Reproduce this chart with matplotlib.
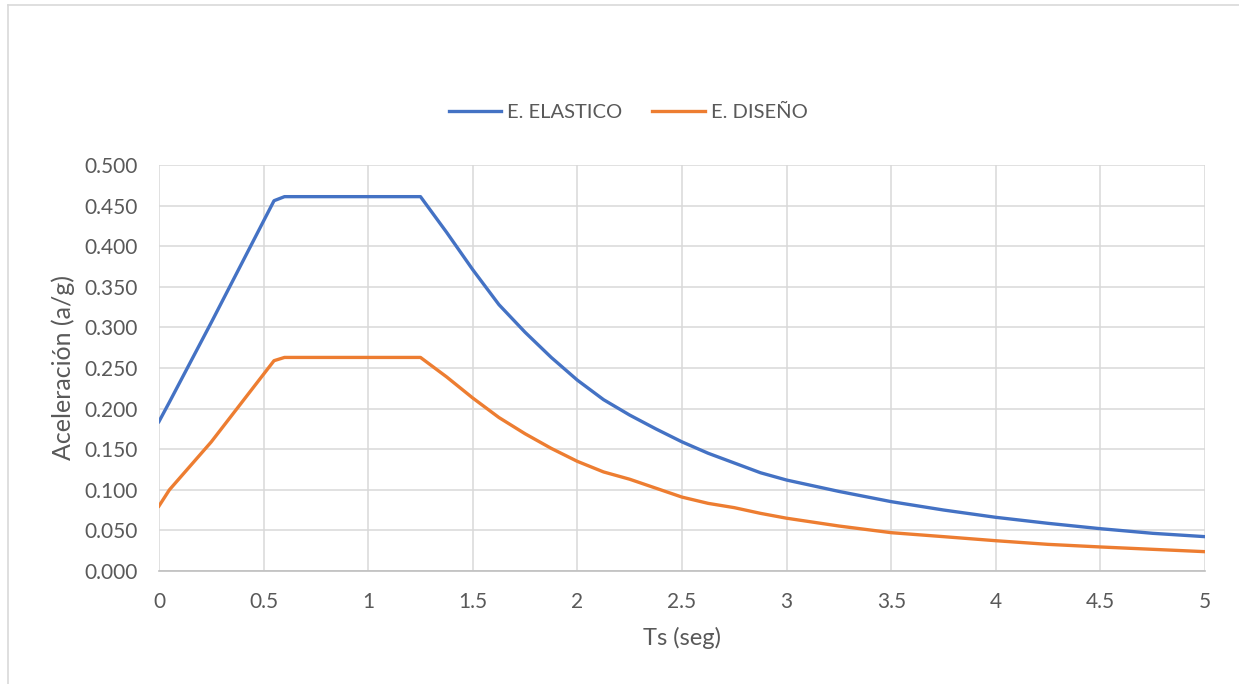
import matplotlib.pyplot as plt
from matplotlib.lines import Line2D

# Periodo (s) y espectros
periodos = [0, 0.05, 0.25, 0.55, 0.6, 1.25, 1.375, 1.5, 1.625, 1.75, 1.875,
            2.0, 2.125, 2.25, 2.375, 2.5, 2.625, 2.75, 2.875, 3.0,
            3.25, 3.5, 3.75, 4.0, 4.25, 4.5, 4.75, 5.0]
e_elastico = [0.184, 0.208, 0.306, 0.456, 0.461, 0.461, 0.417, 0.371, 0.328, 0.294, 0.263,
              0.235, 0.211, 0.192, 0.175, 0.159, 0.145, 0.133, 0.121, 0.112,
              0.098, 0.0854, 0.0751, 0.0661, 0.0587, 0.0521, 0.0464, 0.0423]
e_diseno = [0.080, 0.100, 0.159, 0.259, 0.263, 0.263, 0.239, 0.213, 0.189, 0.169, 0.151,
            0.135, 0.122, 0.113, 0.102, 0.091, 0.0833, 0.078, 0.071, 0.065,
            0.0554, 0.0472, 0.0423, 0.0373, 0.0328, 0.0296, 0.0267, 0.0238]

x_ticks = [0, 0.5, 1, 1.5, 2, 2.5, 3, 3.5, 4, 4.5, 5]
x_labels = ["0", "0.5", "1", "1.5", "2", "2.5", "3", "3.5", "4", "4.5", "5"]
y_ticks = [0.0, 0.05, 0.1, 0.15, 0.2, 0.25, 0.3, 0.35, 0.4, 0.45, 0.5]

plt.rcParams['font.family'] = ['Lato', 'DejaVu Sans']
txt = '#595959'

fig = plt.figure(figsize=(12.39, 6.84), dpi=100)
ax = fig.add_axes([0.1283, 0.1652, 0.8443, 0.5936])

ax.plot(periodos, e_elastico, color='#4472C4', lw=2.4, label='E. ELASTICO',
        solid_joinstyle='round')
ax.plot(periodos, e_diseno, color='#ED7D31', lw=2.4, label='E. DISEÑO',
        solid_joinstyle='round')

ax.set_xlim(0, 5)
ax.set_ylim(0, 0.5)
ax.set_xticks(x_ticks)
ax.set_xticklabels(x_labels)
ax.set_yticks(y_ticks)
ax.set_yticklabels([f"{v:.3f}" for v in y_ticks])
ax.tick_params(length=0, labelsize=15, colors=txt)
ax.tick_params(axis='y', pad=15)
ax.tick_params(axis='x', pad=15)
ax.grid(True, color='#d9d9d9', lw=1.1)
ax.set_axisbelow(True)
for s in ['top', 'right', 'left']:
    ax.spines[s].set_visible(False)
ax.spines['bottom'].set_color('#bfbfbf')
ax.spines['bottom'].set_linewidth(1.2)

ax.set_xlabel('Ts (seg)', fontsize=17, color=txt, labelpad=11)
ax.set_ylabel('Aceleración (a/g)', fontsize=18, color=txt, labelpad=7)

leg = fig.legend(loc='center', bbox_to_anchor=(0.507, 0.836), ncol=2, frameon=False,
                 fontsize=14.5, handlelength=2.6, columnspacing=1.5, handletextpad=0.3)
for t in leg.get_texts():
    t.set_color(txt)

# marco del grafico
fig.add_artist(Line2D([8 / 1239, 8 / 1239], [0, 1 - 5 / 684], transform=fig.transFigure,
                      color='#d9d9d9', lw=1.2))
fig.add_artist(Line2D([8 / 1239, 1], [1 - 5 / 684, 1 - 5 / 684], transform=fig.transFigure,
                      color='#d9d9d9', lw=1.2))

fig.savefig('out.png', dpi=100)
